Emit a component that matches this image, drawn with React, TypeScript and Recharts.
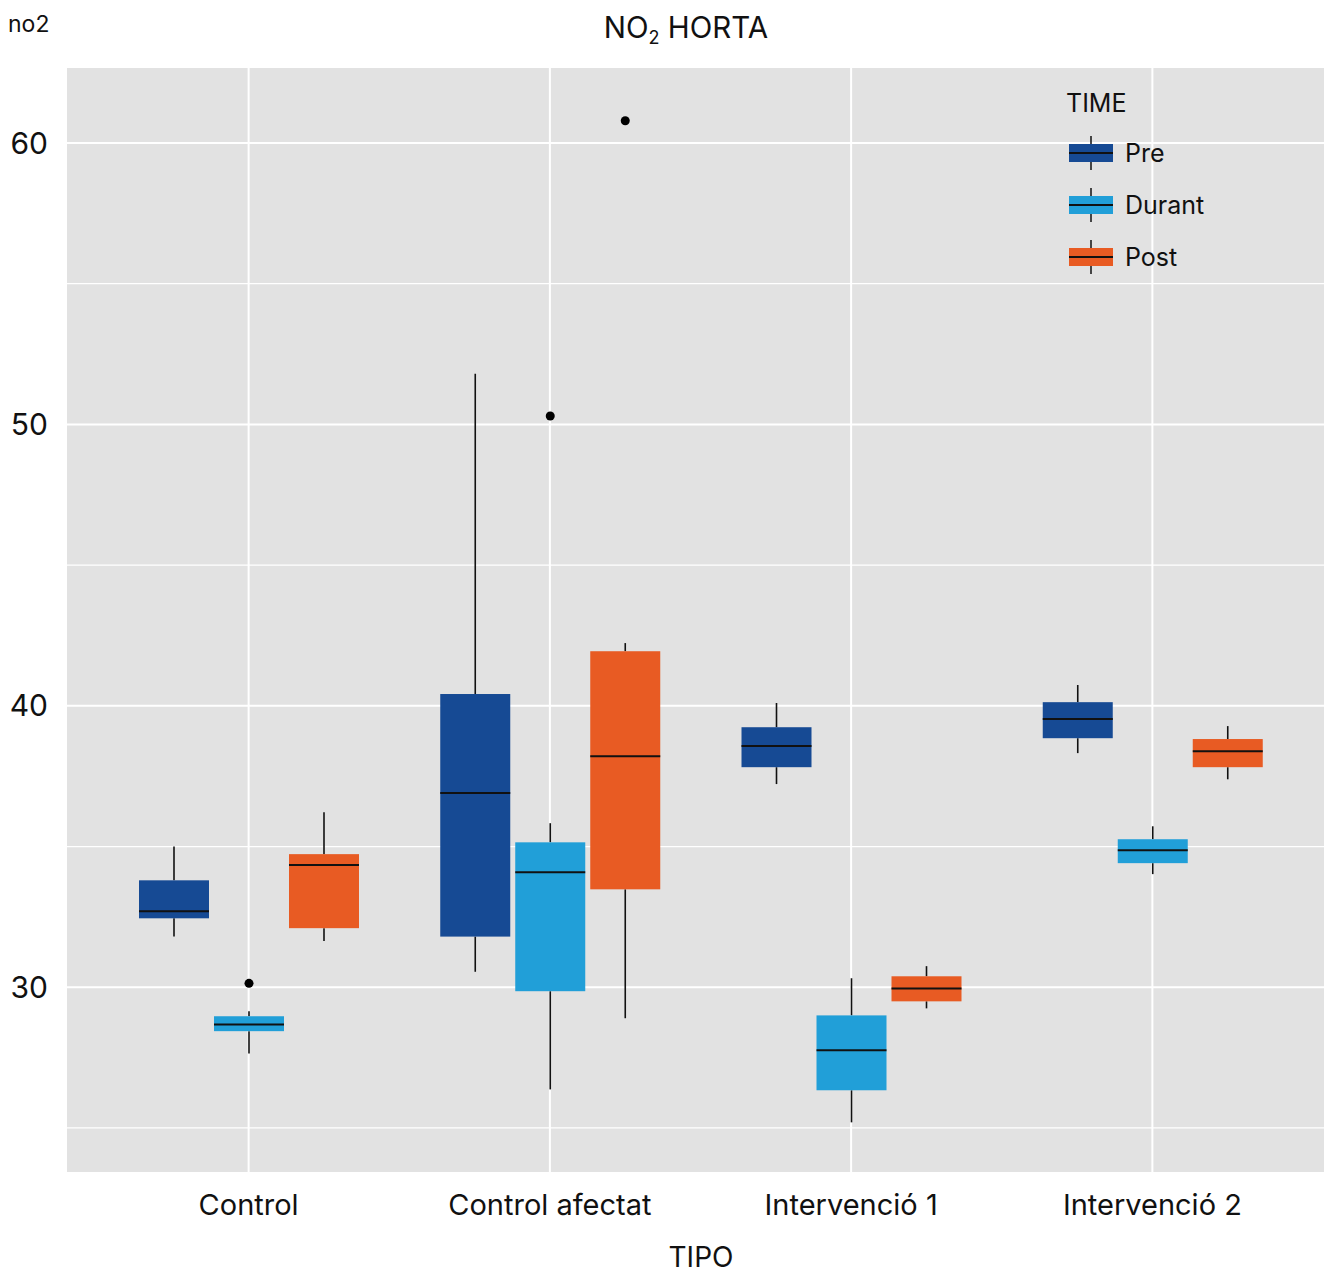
import { ComposedChart, Bar, XAxis, YAxis, CartesianGrid, Legend } from 'recharts'

const categories = ['Control', 'Control afectat', 'Intervenció 1', 'Intervenció 2']
const timeOrder = ['Pre', 'Durant', 'Post']

// five-number summaries per TIPO: [min, q1, median, q3, max]
const preStats = [
  [31.8, 32.45, 32.7, 33.8, 35.0],
  [30.55, 31.8, 36.9, 40.42, 51.8],
  [37.22, 37.82, 38.57, 39.24, 40.1],
  [38.32, 38.85, 39.53, 40.13, 40.74],
]
const durantStats = [
  [27.65, 28.44, 28.68, 28.97, 29.15],
  [26.37, 29.86, 34.09, 35.15, 35.83],
  [25.2, 26.34, 27.76, 29.0, 30.32],
  [34.02, 34.41, 34.87, 35.26, 35.72],
]
const postStats = [
  [31.64, 32.1, 34.34, 34.73, 36.22],
  [28.9, 33.48, 38.21, 41.94, 42.23],
  [29.25, 29.5, 29.96, 30.39, 30.75],
  [37.39, 37.82, 38.39, 38.82, 39.28],
]
const preOutliers = [[], [], [], []]
const durantOutliers = [[30.14], [50.3], [], []]
const postOutliers = [[], [60.79], [], []]

const yTicks = [30, 40, 50, 60]
const yMinorTicks = [25, 35, 45, 55]

const FONT = 'Inter, "Noto Sans", sans-serif'

const data = categories.map((tipo, i) => ({
  tipo,
  pre: preStats[i],
  preOut: preOutliers[i],
  durant: durantStats[i],
  durantOut: durantOutliers[i],
  post: postStats[i],
  postOut: postOutliers[i],
}))

// box + whiskers drawn from the bar rect (q1..q3) the library placed
const makeBox = (key: string, outKey: string) => (props: any) => {
  const { x, y, width, height, payload, fill } = props
  const s: number[] = payload[key]
  const out: number[] = payload[outKey] || []
  const k = height / (s[3] - s[1])
  const py = (v: number) => y + (s[3] - v) * k
  const cx = x + width / 2
  return (
    <g>
      <line x1={cx} x2={cx} y1={py(s[4])} y2={y} stroke="#111" strokeWidth={1.6} />
      <line x1={cx} x2={cx} y1={y + height} y2={py(s[0])} stroke="#111" strokeWidth={1.6} />
      <rect x={x} y={y} width={width} height={height} fill={fill} />
      <line x1={x} x2={x + width} y1={py(s[2])} y2={py(s[2])} stroke="#111" strokeWidth={2} />
      {out.map((v, j) => (
        <circle key={j} cx={cx} cy={py(v)} r={4.5} fill="#000" />
      ))}
    </g>
  )
}

const renderLegend = (props: any) => {
  const items = [...(props.payload || [])].sort(
    (a: any, b: any) => timeOrder.indexOf(a.value) - timeOrder.indexOf(b.value)
  )
  return (
    <div style={{ fontFamily: FONT, color: '#111' }}>
      <div style={{ fontSize: 25, lineHeight: '30px', marginBottom: 9 }}>TIME</div>
      {items.map((p: any) => (
        <div key={p.value} style={{ display: 'flex', alignItems: 'center', height: 52 }}>
          <svg width={46} height={36} style={{ marginLeft: 3 }}>
            <line x1={22} x2={22} y1={1} y2={35} stroke="#111" strokeWidth={1.5} />
            <rect x={0} y={9} width={44} height={18} fill={p.color} />
            <line x1={0} x2={44} y1={18} y2={18} stroke="#111" strokeWidth={2} />
          </svg>
          <span style={{ fontSize: 25, marginLeft: 10 }}>{p.value}</span>
        </div>
      ))}
    </div>
  )
}

export default function App() {
  return (
    <div style={{ position: 'absolute', left: 0, top: 0, width: 1325, height: 1280, background: '#fff', fontFamily: FONT, overflow: 'hidden' }}>
      <div style={{ position: 'absolute', left: 8, top: 10, fontSize: 23, color: '#111' }}>no2</div>
      <div style={{ position: 'absolute', left: 0, width: 1372, top: 9, textAlign: 'center', fontSize: 29.5, color: '#111' }}>
        NO<sub style={{ fontSize: 18, verticalAlign: -6 }}>2</sub> HORTA
      </div>
      <div style={{ position: 'absolute', left: 0, width: 1402, top: 1242, lineHeight: '30px', textAlign: 'center', fontSize: 28, color: '#111' }}>
        TIPO
      </div>
      <ComposedChart
        width={1325}
        height={1280}
        data={data}
        margin={{ top: 67, right: 0, bottom: 0, left: 0 }}
        barSize={70}
        barGap={5}
      >
        <CartesianGrid
          yAxisId="minor"
          fill="#e2e2e2"
          fillOpacity={1}
          stroke="#fff"
          strokeWidth={1.2}
          vertical={false}
        />
        <CartesianGrid stroke="#fff" strokeWidth={2} />
        <XAxis
          dataKey="tipo"
          padding={{ left: 32, right: 22 }}
          height={107}
          tickLine={false}
          axisLine={false}
          tickSize={0}
          tickMargin={21}
          tick={{ fontSize: 29, fill: '#111', fontFamily: FONT }}
        />
        <YAxis
          type="number"
          domain={[23.4, 62.7]}
          allowDataOverflow
          ticks={yTicks}
          width={66}
          tickLine={false}
          axisLine={false}
          tickSize={0}
          tickMargin={18}
          tick={{ fontSize: 30, fill: '#111', fontFamily: FONT }}
        />
        <YAxis yAxisId="minor" type="number" domain={[23.4, 62.7]} allowDataOverflow ticks={yMinorTicks} hide />
        <Legend
          layout="vertical"
          align="center"
          verticalAlign="middle"
          content={renderLegend}
          wrapperStyle={{ left: 1066, top: 88, width: 220 }}
        />
        <Bar name="Pre" dataKey={(d: any) => [d.pre[1], d.pre[3]]} fill="#164a94" shape={makeBox('pre', 'preOut')} isAnimationActive={false} />
        <Bar name="Durant" dataKey={(d: any) => [d.durant[1], d.durant[3]]} fill="#219fd8" shape={makeBox('durant', 'durantOut')} isAnimationActive={false} />
        <Bar name="Post" dataKey={(d: any) => [d.post[1], d.post[3]]} fill="#e85b23" shape={makeBox('post', 'postOut')} isAnimationActive={false} />
      </ComposedChart>
    </div>
  )
}
